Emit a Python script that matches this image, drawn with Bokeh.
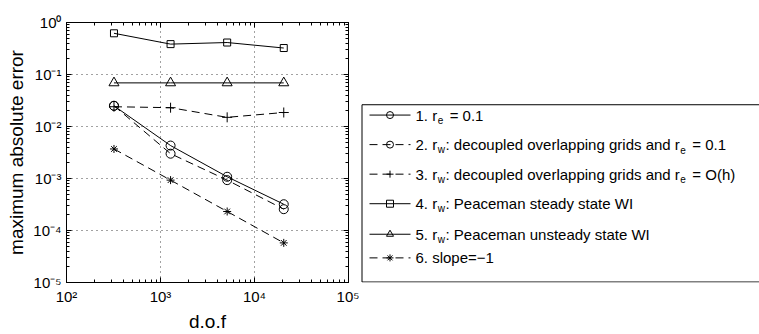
import re
from bokeh.plotting import figure
from bokeh.layouts import row
from bokeh.models import (FixedTicker, CustomJSTickFormatter, LogAxis, Label, Range1d)
from bokeh.embed import file_html
from bokeh.resources import INLINE

# ---------------- data ----------------
dof = [320, 1280, 5120, 20480]
err_re_01 = [0.025, 0.0043, 0.00108, 0.00032]
err_overlap_re_01 = [0.025, 0.0030, 0.00093, 0.000257]
err_overlap_re_oh = [0.024, 0.023, 0.0150, 0.0186]
err_peaceman_steady = [0.62, 0.384, 0.412, 0.323]
err_peaceman_unsteady = [0.069, 0.069, 0.069, 0.069]
slope_ref = [0.0037, 0.00093, 0.000232, 0.0000578]

x_major = [1e2, 1e3, 1e4, 1e5]
y_major = [1e-5, 1e-4, 1e-3, 1e-2, 1e-1, 1e0]
x_label = "d.o.f"
y_label = "maximum absolute error"
legend_labels = [
    "1. r_{e} = 0.1",
    "2. r_{w}: decoupled overlapping grids and r_{e} = 0.1",
    "3. r_{w}: decoupled overlapping grids and r_{e} = O(h)",
    "4. r_{w}: Peaceman steady state WI",
    "5. r_{w}: Peaceman unsteady state WI",
    "6. slope=\u22121",
]

FONT = "Liberation Sans"
H = 334
W_A = 359                      # plot figure width
W_B = 759 - W_A                # legend figure width
LEFT, RIGHT, TOP, BOTTOM = 66, 11, 22, 48
DASH = "8 5"

def minor_of(major):
    out = []
    for m in major[:-1]:
        out += [m * k for k in range(2, 10)]
    return out

sup_fmt = CustomJSTickFormatter(code="""
const sup = {"-": "\\u207b", "0": "\\u2070", "1": "\\u00b9", "2": "\\u00b2",
             "3": "\\u00b3", "4": "\\u2074", "5": "\\u2075", "6": "\\u2076",
             "7": "\\u2077", "8": "\\u2078", "9": "\\u2079"};
const e = Math.round(Math.log10(tick));
let s = "";
for (const c of String(e)) { s += sup[c]; }
return "10" + s;
""")

p = figure(width=W_A, height=H, x_axis_type="log", y_axis_type="log",
           x_range=(x_major[0], x_major[-1]), y_range=(y_major[0], y_major[-1]),
           output_backend="svg", toolbar_location=None, title=None,
           min_border_left=LEFT, min_border_right=RIGHT,
           min_border_top=TOP, min_border_bottom=BOTTOM,
           background_fill_color="white", border_fill_color="white")
p.outline_line_color = "black"
p.outline_line_width = 1

xt = FixedTicker(ticks=x_major, minor_ticks=minor_of(x_major))
yt = FixedTicker(ticks=y_major, minor_ticks=minor_of(y_major))

for ax, t in ((p.xaxis[0], xt), (p.yaxis[0], yt)):
    ax.ticker = t
    ax.formatter = sup_fmt
    ax.major_tick_in = 5
    ax.major_tick_out = 0
    ax.minor_tick_in = 3
    ax.minor_tick_out = 0
    ax.axis_line_color = "black"
    ax.major_tick_line_color = "black"
    ax.minor_tick_line_color = "black"
    ax.major_label_text_font = FONT
    ax.major_label_text_font_size = "15px"
    ax.major_label_text_color = "black"
    ax.axis_label_text_font = FONT
    ax.axis_label_text_font_size = "19px"
    ax.axis_label_text_font_style = "normal"
    ax.axis_label_text_color = "black"
    ax.major_label_standoff = 5
    ax.axis_label_standoff = 3

p.xaxis.axis_label = x_label
p.yaxis.axis_label = y_label
p.yaxis.major_label_orientation = "horizontal"

for side, t in (("above", xt), ("right", yt)):
    a = LogAxis(ticker=t, major_tick_in=5, major_tick_out=0, minor_tick_in=3,
                minor_tick_out=0, major_label_text_alpha=0,
                major_label_text_font_size="1px",
                major_label_standoff=0, axis_line_color="black")
    p.add_layout(a, side)

p.xgrid.ticker = xt
p.ygrid.ticker = yt
p.grid.grid_line_color = "#444444"
p.grid.grid_line_dash = "1 4"
p.grid.grid_line_width = 1

series = [
    (err_re_01, "solid", "circle", 9),
    (err_overlap_re_01, DASH, "circle", 9),
    (err_overlap_re_oh, DASH, "cross", 10),
    (err_peaceman_steady, "solid", "square", 7),
    (err_peaceman_unsteady, "solid", "triangle", 10),
    (slope_ref, DASH, "asterisk", 8),
]

for vals, dash, marker, size in series:
    p.line(dof, vals, line_color="black", line_width=1, line_dash=dash)
    p.scatter(dof, vals, marker=marker, size=size, line_color="black",
              fill_color=None, line_width=1)

# ---------------- legend panel (figure in page-pixel units) ----------------
FR_TOP, FR_BOTTOM = TOP, H - BOTTOM
q = figure(width=W_B, height=H, x_range=Range1d(0, W_B), y_range=Range1d(FR_BOTTOM, FR_TOP),
           output_backend="svg", toolbar_location=None, title=None,
           min_border_left=0, min_border_right=0,
           min_border_top=TOP, min_border_bottom=BOTTOM,
           x_axis_location=None, y_axis_location=None,
           background_fill_color="white", border_fill_color="white")
q.outline_line_color = None
q.grid.visible = False

# legend frame (page pixels; right side runs past the page edge)
BOX_LEFT = 361.5 - W_A
BOX_TOP, BOX_BOTTOM = 105.5, 285.5
BOX_RIGHT = W_B + 30
q.line(x=[BOX_RIGHT, BOX_LEFT, BOX_LEFT, BOX_RIGHT],
       y=[BOX_TOP, BOX_TOP, BOX_BOTTOM, BOX_BOTTOM],
       line_color="black", line_width=1)

CW = {' ': 278, '\u00a0': 278, '.': 278, ':': 278, '=': 584, 'a': 556, 'b': 556,
      'c': 500, 'd': 556, 'e': 556, 'g': 556, 'h': 556, 'i': 222, 'l': 222,
      'n': 556, 'o': 556, 'p': 556, 'r': 333, 's': 500, 't': 278, 'u': 556,
      'v': 500, 'y': 500, 'm': 833, 'w': 722, 'f': 278, 'k': 500, 'P': 667,
      'W': 944, 'I': 278, 'O': 778, '(': 333, ')': 333}

def text_w(s, fs):
    return sum(CW.get(c, 556) for c in s) * fs / 1000.0

LFS, SFS = 15, 10
GLW, STANDOFF = 41, 5
GLYPH_X = 369 - W_A
ROW_Y = [116, 146, 176, 206, 237, 261]     # legend row centres (page px)
text_x0 = GLYPH_X + GLW + STANDOFF
GAP = "\u00a0\u00a0"                       # room left for a subscript

for i, ((vals, dash, marker, size), lab) in enumerate(zip(series, legend_labels)):
    cy = ROW_Y[i]
    q.segment(x0=[GLYPH_X], y0=[cy], x1=[GLYPH_X + GLW], y1=[cy],
              line_color="black", line_width=1, line_dash=dash)
    q.scatter(x=[GLYPH_X + GLW / 2], y=[cy], marker=marker, size=7,
              line_color="black", fill_color=None, line_width=1)
    parts = re.split(r"_\{(.*?)\}", lab)
    main = ""
    for j, part in enumerate(parts):
        if j % 2 == 0:
            main += part
        else:
            xoff = text_w(main, LFS) + 0.5
            q.add_layout(Label(x=text_x0 + xoff, y=cy + 5, text=part,
                               text_font=FONT, text_font_size=f"{SFS}px",
                               text_baseline="middle", text_align="left",
                               text_color="black"))
            main += GAP
    q.add_layout(Label(x=text_x0, y=cy, text=main, text_font=FONT,
                       text_font_size=f"{LFS}px", text_baseline="middle",
                       text_align="left", text_color="black"))

layout = row(p, q, spacing=0)
open("out.html", "w").write(file_html(layout, INLINE))
